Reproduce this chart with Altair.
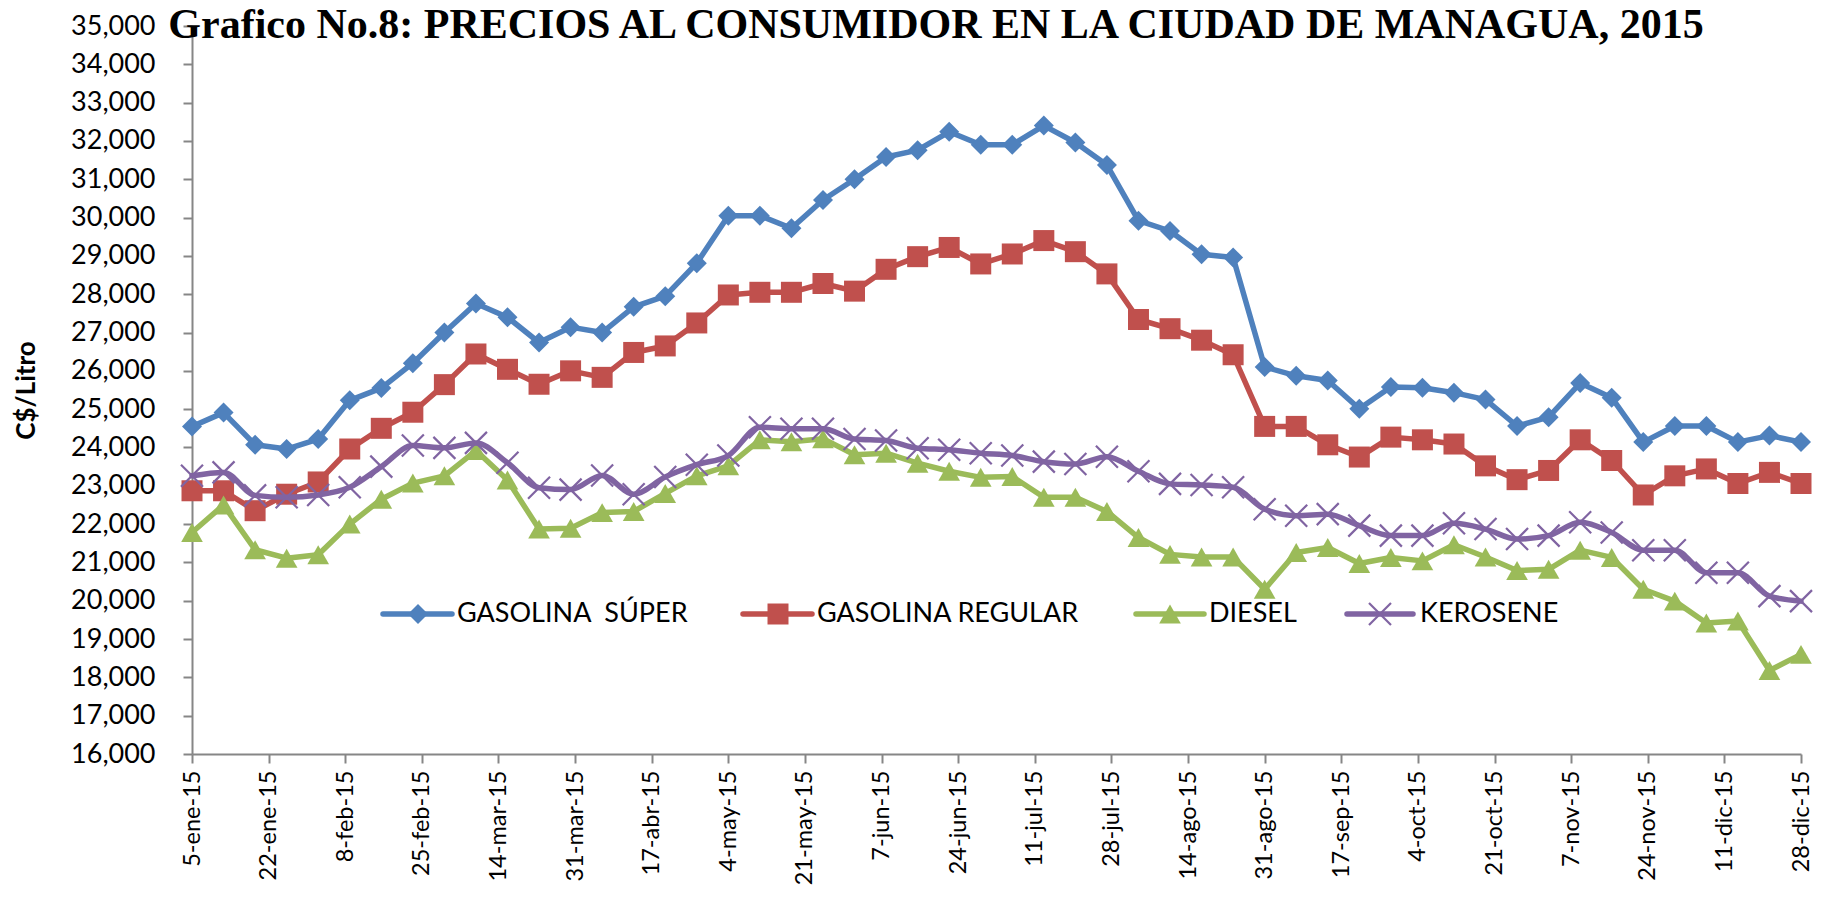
import json
import altair as alt
import pandas as pd

# Weekly observation dates (Mondays of 2015)
dates = [d.strftime("%Y-%m-%d") for d in pd.date_range("2015-01-05", periods=52, freq="7D")]

series_names = ["GASOLINA\u00a0 SÚPER", "GASOLINA REGULAR", "DIESEL", "KEROSENE"]
colors = ["#4F81BD", "#C0504D", "#9BBB59", "#8064A2"]

gasolina_super = [24550, 24910, 24070, 23960, 24220, 25230, 25550, 26200, 27000, 27760,
                  27400, 26740, 27140, 27000, 27670, 27950, 28810, 30050, 30050, 29720,
                  30460, 31000, 31580, 31760, 32240, 31900, 31900, 32400, 31960, 31370,
                  29920, 29650, 29040, 28960, 26100, 25870, 25750, 25010, 25580, 25560,
                  25430, 25250, 24560, 24790, 25680, 25300, 24140, 24560, 24560, 24140,
                  24310, 24140]
gasolina_regular = [22870, 22870, 22350, 22780, 23100, 23960, 24500, 24920, 25640, 26440,
                    26040, 25650, 26000, 25830, 26480, 26650, 27250, 27980, 28050, 28050,
                    28280, 28080, 28650, 28980, 29220, 28790, 29050, 29400, 29110, 28530,
                    27340, 27100, 26800, 26420, 24550, 24550, 24070, 23750, 24270, 24200,
                    24090, 23520, 23160, 23400, 24200, 23660, 22760, 23260, 23440, 23060,
                    23350, 23060]
diesel = [21780, 22500, 21330, 21110, 21200, 22000, 22650, 23070, 23260, 23920,
          23150, 21870, 21890, 22300, 22330, 22800, 23260, 23520, 24200, 24150,
          24230, 23810, 23850, 23590, 23380, 23220, 23240, 22700, 22700, 22330,
          21650, 21210, 21140, 21140, 20300, 21260, 21390, 20970, 21130, 21040,
          21460, 21140, 20790, 20820, 21320, 21130, 20300, 19990, 19420, 19470,
          18180, 18600]
kerosene = [23260, 23350, 22750, 22700, 22760, 22960, 23500, 24050, 23990, 24120,
            23600, 22950, 22900, 23270, 22780, 23230, 23550, 23790, 24530, 24490,
            24490, 24220, 24180, 23980, 23940, 23850, 23790, 23630, 23570, 23760,
            23380, 23050, 23020, 22960, 22390, 22220, 22260, 21960, 21700, 21700,
            22020, 21870, 21610, 21700, 22050, 21780, 21320, 21320, 20730, 20730,
            20120, 19990]

tick_iso = ["2015-01-05", "2015-01-22", "2015-02-08", "2015-02-25", "2015-03-14",
            "2015-03-31", "2015-04-17", "2015-05-04", "2015-05-21", "2015-06-07",
            "2015-06-24", "2015-07-11", "2015-07-28", "2015-08-14", "2015-08-31",
            "2015-09-17", "2015-10-04", "2015-10-21", "2015-11-07", "2015-11-24",
            "2015-12-11", "2015-12-28"]
tick_labels = ["5-ene-15", "22-ene-15", "8-feb-15", "25-feb-15", "14-mar-15",
               "31-mar-15", "17-abr-15", "4-may-15", "21-may-15", "7-jun-15",
               "24-jun-15", "11-jul-15", "28-jul-15", "14-ago-15", "31-ago-15",
               "17-sep-15", "4-oct-15", "21-oct-15", "7-nov-15", "24-nov-15",
               "11-dic-15", "28-dic-15"]
y_ticks = [16000, 17000, 18000, 19000, 20000, 21000, 22000, 23000, 24000, 25000,
           26000, 27000, 28000, 29000, 30000, 31000, 32000, 33000, 34000, 35000]

title_text = "Grafico No.8: PRECIOS AL CONSUMIDOR EN LA CIUDAD DE MANAGUA, 2015"

all_values = [gasolina_super, gasolina_regular, diesel, kerosene]
rows = []
for name, vals in zip(series_names, all_values):
    for d, v in zip(dates, vals):
        rows.append({"date": d, "value": v, "series": name})
df = pd.DataFrame(rows)


def ms(s):
    return int(pd.Timestamp(s, tz="UTC").value // 10**6)


tick_ms = [ms(s) for s in tick_iso]
label_expr = (f"{json.dumps(tick_labels)}[indexof({json.dumps(tick_iso)}, "
              f"utcFormat(datum.value, '%Y-%m-%d'))]")

AX = "#868686"
FONT = "Lato"

x_enc = alt.X(
    "date:T",
    scale=alt.Scale(type="utc", domain=[ms(dates[0]), ms(dates[-1])], nice=False, padding=0),
    axis=alt.Axis(values=tick_ms, labelExpr=label_expr, labelAngle=270, labelFont=FONT,
                  labelFontSize=23.5, labelColor="black", tickSize=9, tickColor=AX,
                  tickWidth=2, domainColor=AX, domainWidth=2, labelPadding=7,
                  labelOverlap=False, grid=False, title=None),
)
y_enc = alt.Y(
    "value:Q",
    scale=alt.Scale(domain=[16000, 35000], nice=False, zero=False),
    axis=alt.Axis(values=y_ticks, format=",.0f", labelFont=FONT, labelFontSize=27,
                  labelColor="black", tickSize=9, tickColor=AX, tickWidth=2,
                  domainColor=AX, domainWidth=2, labelPadding=28, grid=False,
                  title="C$/Litro", titleFont=FONT, titleFontSize=26,
                  titleFontWeight="bold", titleColor="black", titleX=-153, titleY=364,
                  titleAngle=270, titleBaseline="bottom", titleAlign="center"),
)

shapes = ["diamond", "square", "M0,-0.875L1,0.875L-1,0.875Z", "M-1,-1L1,1M-1,1L1,-1"]
sizes = [400, 441, 470, 484]

base = alt.Chart(df)
layers = []
for name, col, shp, sz in zip(series_names, colors, shapes, sizes):
    sub = base.transform_filter(alt.datum.series == name)
    interp = "monotone" if name == "KEROSENE" else "linear"
    layers.append(sub.mark_line(color=col, strokeWidth=5.5, strokeJoin="round",
                                strokeCap="round", interpolate=interp)
                  .encode(x=x_enc, y=y_enc))
    if name == "KEROSENE":
        pt = sub.mark_point(shape=shp, size=sz, filled=False, color=col,
                            strokeWidth=2.2, opacity=1)
    else:
        pt = sub.mark_point(shape=shp, size=sz, filled=True, color=col, opacity=1)
    layers.append(pt.encode(x=x_enc, y=y_enc))

# Legend drawn inside the plot
one = alt.Chart(pd.DataFrame({"k": [0]}))
legend_y = 588
legend_items = [(191, 260, 226, 265), (551, 620, 586, 625),
                (944, 1012, 978, 1017), (1155, 1221, 1188, 1228)]
for (x1, x2, mx, tx), name, col, shp, sz in zip(legend_items, series_names, colors, shapes, sizes):
    layers.append(one.mark_rule(color=col, strokeWidth=5.5, strokeCap="round")
                  .encode(x=alt.value(x1), x2=alt.value(x2), y=alt.value(legend_y)))
    if name == "KEROSENE":
        lp = one.mark_point(shape=shp, size=sz, filled=False, color=col, strokeWidth=2.2, opacity=1)
    else:
        lp = one.mark_point(shape=shp, size=sz, filled=True, color=col, opacity=1)
    layers.append(lp.encode(x=alt.value(mx), y=alt.value(legend_y)))
    layers.append(one.mark_text(text=name, align="left", baseline="middle", font=FONT,
                                fontSize=27, color="black")
                  .encode(x=alt.value(tx), y=alt.value(legend_y)))

layers.append(one.mark_text(text=title_text, align="center", baseline="alphabetic",
                            font="Liberation Serif", fontWeight="bold", fontSize=42,
                            color="black")
              .encode(x=alt.value(744), y=alt.value(12)))

chart = alt.layer(*layers).properties(
    width=1609, height=728,
    padding={"left": 184, "top": 18, "right": 12, "bottom": 132},
    autosize=alt.AutoSizeParams(type="none"),
    background="white",
).configure_view(stroke=None)

chart.save("out.html", embed_options={"renderer": "svg", "actions": False})
